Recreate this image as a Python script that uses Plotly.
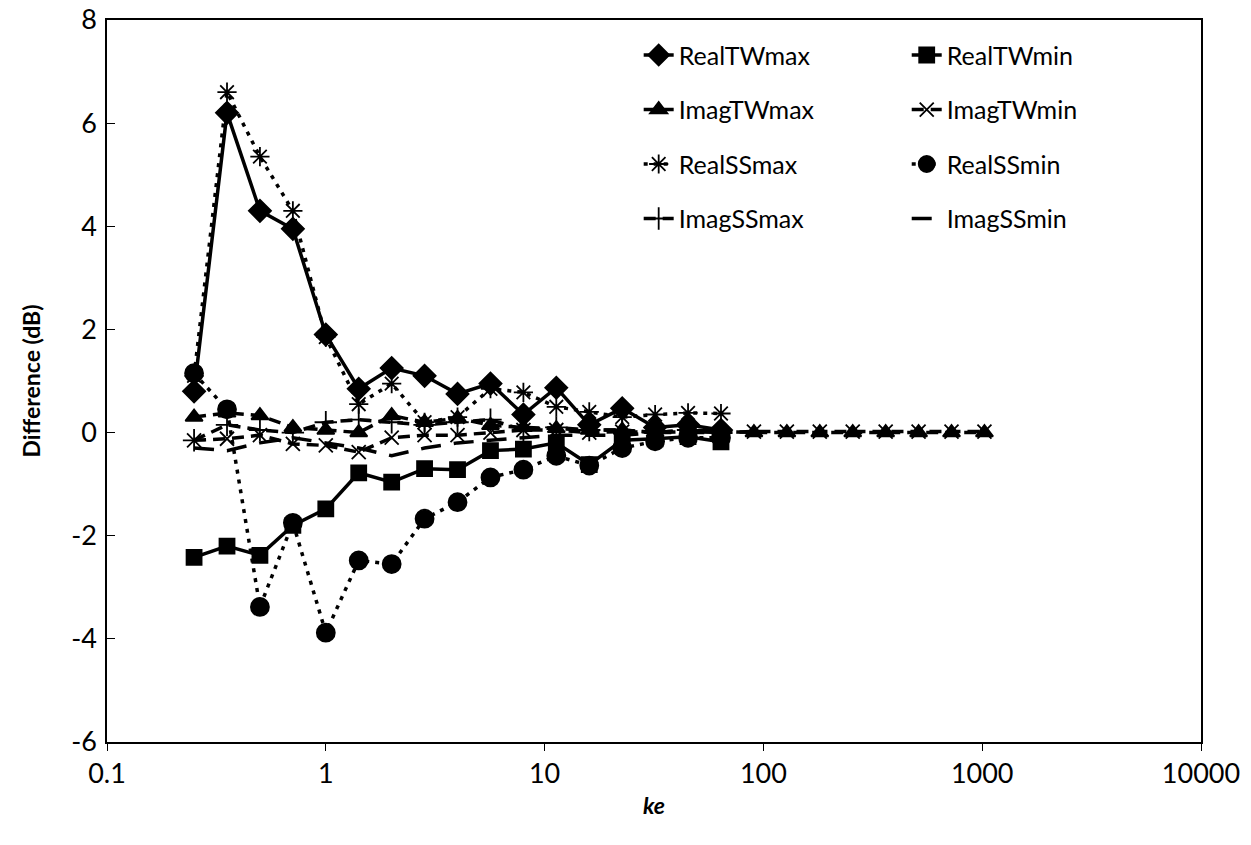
import plotly.graph_objects as go

# ke values (x axis, log scale)
ke = [0.25, 0.3536, 0.5, 0.7071, 1, 1.414, 2, 2.828, 4, 5.657, 8, 11.31, 16,
      22.63, 32, 45.25, 64, 90.51, 128, 181.0, 256, 362.0, 512, 724.1, 1024]

real_tw_max = [0.8, 6.2, 4.3, 3.95, 1.9, 0.85, 1.25, 1.1, 0.75, 0.95, 0.35, 0.87,
               0.15, 0.47, 0.1, 0.15, 0.05]
real_tw_min = [-2.42, -2.2, -2.38, -1.8, -1.48, -0.78, -0.96, -0.7, -0.72, -0.35,
               -0.32, -0.2, -0.62, -0.15, -0.12, -0.08, -0.18]
imag_tw_max = [0.3, 0.38, 0.33, 0.1, 0.05, 0.0, 0.33, 0.2, 0.28, 0.14, 0.1, 0.08,
               0.05, 0.05, 0.0, 0.05, 0.02, 0.0, 0.0, 0.0, 0.0, 0.0, 0.0, 0.0, 0.0]
imag_tw_min = [-0.15, -0.12, -0.05, -0.22, -0.25, -0.38, -0.1, -0.05, -0.05, 0.0,
               0.05, 0.05, 0.0, 0.02, 0.0, 0.02, 0.0, 0.02, 0.02, 0.02, 0.02, 0.02,
               0.02, 0.02, 0.02]
real_ss_max = [1.1, 6.6, 5.35, 4.3, 1.85, 0.55, 0.95, 0.2, 0.3, 0.85, 0.78, 0.5,
               0.4, 0.3, 0.35, 0.38, 0.37]
real_ss_min = [1.15, 0.45, -3.38, -1.75, -3.88, -2.48, -2.55, -1.67, -1.35, -0.87,
               -0.72, -0.45, -0.64, -0.3, -0.17, -0.1, -0.1]
imag_ss_max = [-0.15, 0.15, 0.05, 0.0, 0.2, 0.25, 0.2, 0.15, 0.2, 0.25, 0.05, 0.1,
               0.05, 0.05, 0.0, 0.05, 0.0]
imag_ss_min = [-0.3, -0.35, -0.2, -0.1, -0.2, -0.3, -0.45, -0.3, -0.2, -0.15, -0.1,
               -0.05, -0.05, -0.05, 0.0, 0.0, 0.0]

y_ticks = [-6, -4, -2, 0, 2, 4, 6, 8]
y_tick_labels = ["-6", "-4", "-2", "0", "2", "4", "6", "8"]
x_ticks = [0.1, 1, 10, 100, 1000, 10000]
x_tick_labels = ["0.1", "1", "10", "100", "1000", "10000"]

FONT = "Lato, 'Open Sans', sans-serif"
BLACK = "black"
DOT = "4px,6px"
DASH_TW = "12px,7px"
DASH_SS = "20px,13px"

series = [
    # name, y, dash, symbol, size, legend
    ("RealTWmax", real_tw_max, "solid", "diamond", 17, "legend"),
    ("ImagTWmax", imag_tw_max, DASH_TW, "triangle-up", 15, "legend"),
    ("RealSSmax", real_ss_max, DOT, "asterisk-open", 16, "legend"),
    ("ImagSSmax", imag_ss_max, DASH_TW, "cross-thin-open", 16, "legend"),
    ("RealTWmin", real_tw_min, "solid", "square", 15, "legend2"),
    ("ImagTWmin", imag_tw_min, DASH_TW, "x-thin-open", 14, "legend2"),
    ("RealSSmin", real_ss_min, DOT, "circle", 18, "legend2"),
    ("ImagSSmin", imag_ss_min, DASH_SS, None, 0, "legend2"),
]

fig = go.Figure()
for name, yv, dash, sym, size, leg in series:
    mode = "lines+markers" if sym else "lines"
    marker = dict(symbol=sym, size=size, color=BLACK,
                  line=dict(color=BLACK, width=1.8)) if sym else None
    fig.add_trace(go.Scatter(
        x=ke[:len(yv)], y=yv, name=name, mode=mode,
        line=dict(color=BLACK, width=3.5, dash=dash),
        marker=marker, legend=leg, legendgroup=name,
    ))

legend_common = dict(
    font=dict(family=FONT, size=25, color=BLACK),
    bgcolor="rgba(0,0,0,0)", tracegroupgap=19, yanchor="top",
    xanchor="left", itemwidth=30,
)

fig.update_layout(
    width=1251, height=845,
    margin=dict(l=107, r=50, t=20, b=103, autoexpand=False),
    paper_bgcolor="white", plot_bgcolor="white",
    font=dict(family=FONT, size=24, color=BLACK),
    legend=dict(x=0.486, y=0.983, **legend_common),
    legend2=dict(x=0.731, y=0.983, **legend_common),
    xaxis=dict(
        type="log", range=[-1, 4], tickvals=x_ticks, ticktext=x_tick_labels,
        showgrid=False, zeroline=False, showline=True, linecolor=BLACK,
        linewidth=1.5, mirror=True, ticks="outside", ticklen=7,
        tickcolor=BLACK, tickfont=dict(size=27), automargin=False,
        title=dict(text="<b><i>ke</i></b>", font=dict(size=23), standoff=10),
    ),
    yaxis=dict(
        range=[-6, 8], tickvals=y_ticks, ticktext=y_tick_labels,
        showgrid=False, zeroline=False,
        showline=True, linecolor=BLACK, linewidth=1.5, mirror=True,
        ticks="inside", ticklen=8, tickcolor=BLACK, tickfont=dict(size=27),
        ticklabelstandoff=3, automargin=False,
        title=dict(text="<b>Difference (dB)</b>", font=dict(size=23), standoff=24),
    ),
)

fig.write_html("out.html", config={"displayModeBar": False},
               post_script="document.body.style.margin='0px';")
